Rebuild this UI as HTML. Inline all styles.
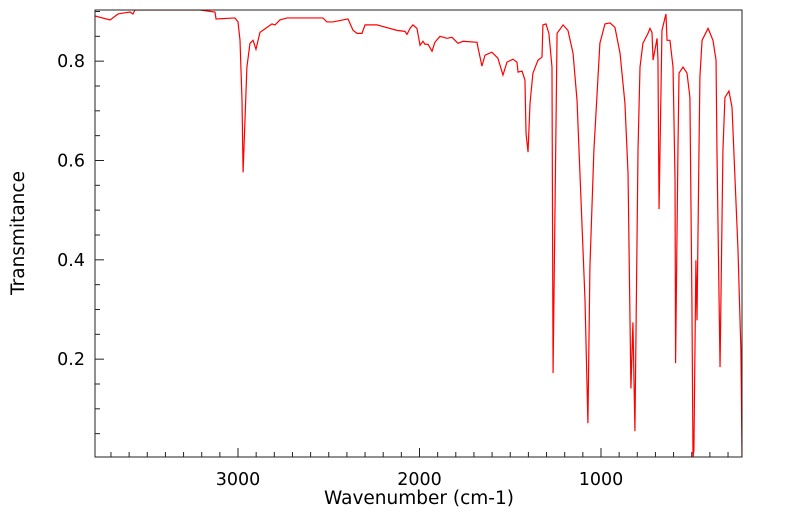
<!DOCTYPE html>
<html><head><meta charset="utf-8"><style>
body{margin:0;background:#fff;}
svg{display:block;font-family:"DejaVu Sans","Liberation Sans",sans-serif;}
</style></head><body>
<svg id="chart" width="799" height="516" viewBox="0 0 799 516" xmlns="http://www.w3.org/2000/svg">
<defs><clipPath id="clip"><rect x="95" y="10" width="647" height="447"/></clipPath></defs>
<g id="axes"></g>
<path id="spectrum" fill="none" stroke="#ff0000" stroke-width="1.2" clip-path="url(#clip)"/>
<rect x="95" y="10" width="647" height="447" fill="none" stroke="#222" stroke-width="1"/>
<text x="419" y="504" font-size="18.5" text-anchor="middle">Wavenumber (cm-1)</text>
<text transform="translate(24,233) rotate(-90)" font-size="18.5" text-anchor="middle">Transmitance</text>
</svg>
<script>
const wavenumbers=[3788,3705,3661,3595,3579,3568,3210,3127,3121,3017,3000,2989,2978,2972,2951,2934,2917,2901,2879,2813,2796,2769,2730,2532,2510,2477,2394,2366,2344,2317,2300,2234,2124,2080,2069,2052,2036,2014,1997,1981,1970,1953,1931,1915,1887,1849,1821,1788,1760,1683,1678,1656,1639,1601,1568,1540,1518,1485,1463,1457,1435,1419,1413,1402,1391,1375,1347,1325,1320,1303,1287,1270,1264,1242,1209,1182,1154,1132,1088,1072,1061,1039,1006,978,950,923,895,868,851,835,824,813,796,785,769,741,730,719,713,691,686,680,664,642,636,620,603,592,589,576,570,548,526,510,499,493,488,477,471,460,455,443,410,383,366,361,344,328,317,295,278,245,229,223,218];
const transmittance=[0.891,0.883,0.895,0.899,0.895,0.903,0.903,0.899,0.885,0.887,0.879,0.842,0.721,0.576,0.788,0.836,0.842,0.824,0.858,0.875,0.873,0.883,0.887,0.887,0.879,0.879,0.885,0.862,0.856,0.856,0.873,0.873,0.862,0.860,0.854,0.866,0.873,0.866,0.832,0.840,0.834,0.834,0.820,0.838,0.850,0.846,0.848,0.836,0.840,0.838,0.828,0.790,0.812,0.818,0.806,0.772,0.798,0.804,0.798,0.778,0.780,0.762,0.655,0.617,0.715,0.776,0.802,0.808,0.873,0.875,0.856,0.788,0.172,0.856,0.873,0.862,0.816,0.721,0.319,0.071,0.385,0.621,0.836,0.875,0.877,0.868,0.816,0.715,0.574,0.141,0.274,0.055,0.621,0.788,0.836,0.856,0.866,0.858,0.802,0.846,0.802,0.502,0.862,0.895,0.842,0.842,0.788,0.560,0.192,0.621,0.776,0.788,0.776,0.727,0.319,0.002,0.017,0.399,0.278,0.621,0.768,0.842,0.866,0.842,0.802,0.621,0.184,0.621,0.727,0.740,0.707,0.419,0.218,0.002,0.131];
const xTicks=[1000,2000,3000];
const yTicks=[0.2,0.4,0.6,0.8];

const X0=95,X1=742,Y0=457,Y1=10;
const wMax=3788,wMin=223,tMin=0.003,tMax=0.903;
function xs(w){return X0+(wMax-w)/(wMax-wMin)*(X1-X0);}
function ys(t){return Y0-(t-tMin)/(tMax-tMin)*(Y0-Y1);}
const NS="http://www.w3.org/2000/svg";
const axes=document.getElementById('axes');
function mk(tag,attrs){const e=document.createElementNS(NS,tag);for(const k in attrs)e.setAttribute(k,attrs[k]);axes.appendChild(e);return e;}
for(let w=300;w<=3700;w+=100){
  const major=w%1000===0;
  const t=mk('line',{x1:xs(w),x2:xs(w),y1:Y0,y2:Y0-(major?9:5),stroke:'#222','stroke-width':1});
  
  
}
xTicks.forEach(v=>{
  const t=mk('text',{x:xs(v),y:485,'font-size':17.5,'text-anchor':'middle'});
  t.textContent=v;
  
  
});
for(let i=1;i<=18;i++){
  const v=i*0.05;const major=Math.abs(v*5-Math.round(v*5))<1e-6;
  const t=mk('line',{x1:X0,x2:X0+(major?9:5),y1:ys(v),y2:ys(v),stroke:'#222','stroke-width':1});
  
  
}
yTicks.forEach(v=>{
  const t=mk('text',{x:85,y:ys(v)+6,'font-size':17.5,'text-anchor':'end'});
  t.textContent=v.toFixed(1);
  
  
});
let d='';
wavenumbers.forEach((w,i)=>{d+=(i?'L':'M')+xs(w).toFixed(2)+','+ys(transmittance[i]).toFixed(2);});
document.getElementById('spectrum').setAttribute('d',d);
</script>
</body></html>
